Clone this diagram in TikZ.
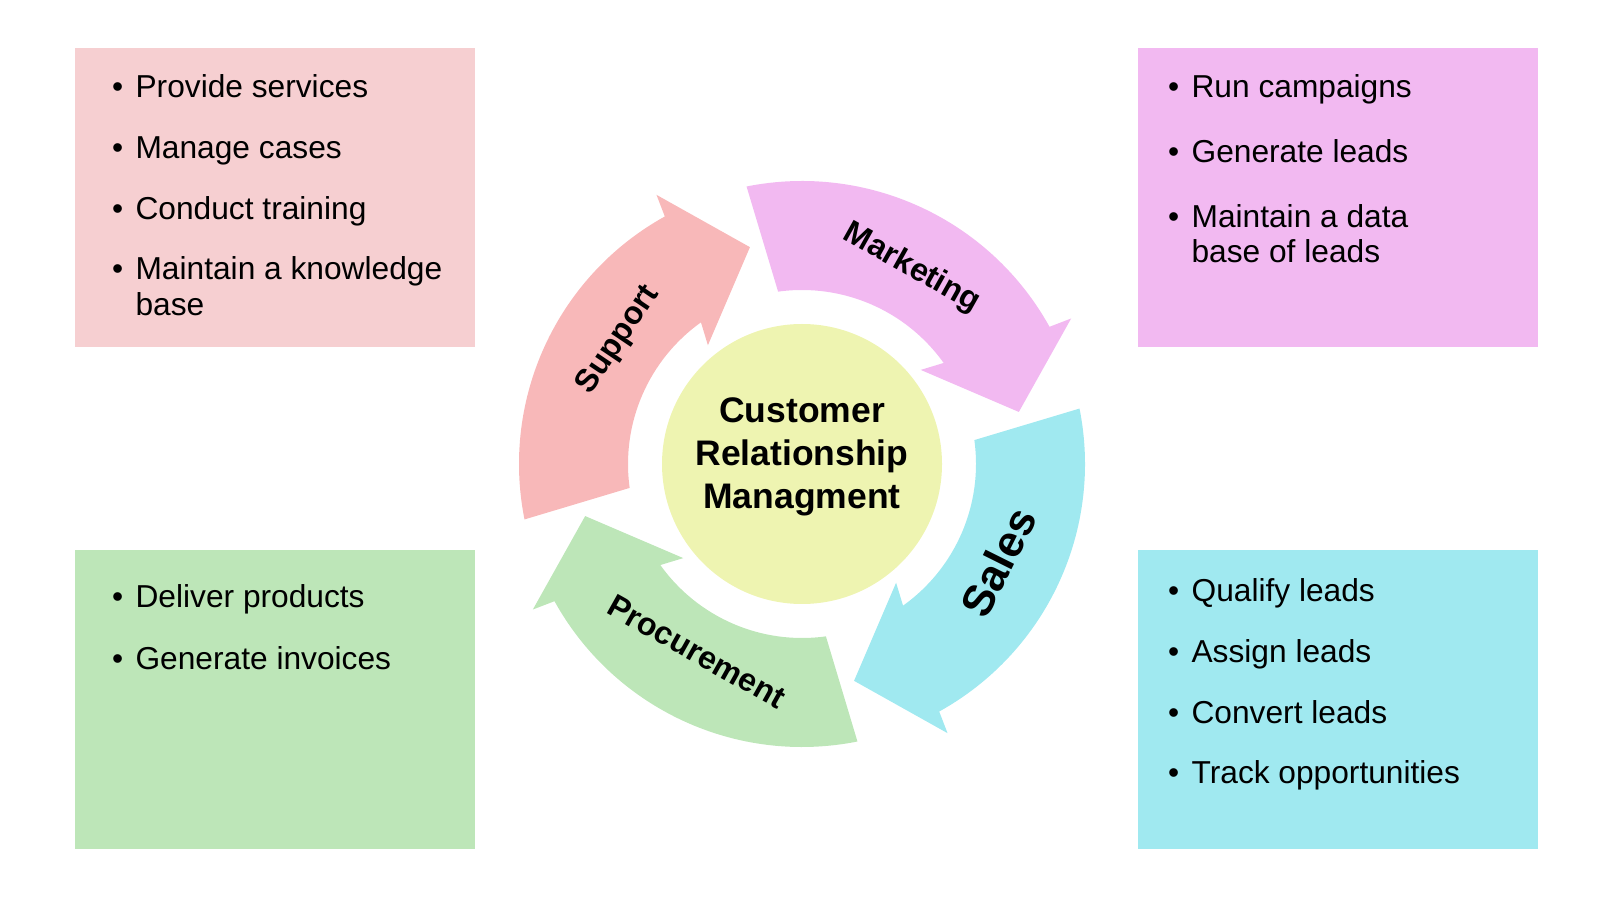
\documentclass[tikz,border=0pt]{standalone}
\usepackage{fontspec}
\setmainfont{Liberation Sans}
\usepackage{tikz}

\definecolor{supportBox}{HTML}{F6CFD1}
\definecolor{supportFill}{HTML}{F8B8B9}
\definecolor{marketingFill}{HTML}{F2B9F1}
\definecolor{salesFill}{HTML}{A0E9F0}
\definecolor{procFill}{HTML}{BDE6B8}
\definecolor{hubFill}{HTML}{EEF4B1}

% one arrow of the cycle, #1 = clockwise turn in degrees, #2 = colour
\newcommand{\cyclearrow}[2]{%
  \fill[#2] (191.3-#1:283pt) arc[start angle=191.3-#1, end angle=119-#1, radius=283pt]
    -- (118.4-#1:306pt) -- (103.5-#1:223pt) -- (128.4-#1:151.5pt) -- (125.5-#1:174pt)
    arc[start angle=125.5-#1, end angle=187.9-#1, radius=174pt] -- cycle;}

\begin{document}
\begin{tikzpicture}[
        x=1pt, y=1pt,
        infobox/.style={rectangle, minimum width=400pt, minimum height=299pt, inner sep=0pt},
        itemlist/.style={anchor=base west, inner sep=0pt, font=\fontsize{31.7}{36}\selectfont},
        stage/.style={inner sep=0pt, font=\bfseries\fontsize{32}{38}\selectfont},
        hub/.style={circle, fill=hubFill, minimum size=280pt, inner sep=0pt}
    ]
    \useasboundingbox (0,0) rectangle (1600,900);

    % the four boxes
    \node (supBox) [infobox, fill=supportBox] at (275,702.5) {};
    \node (mktBox) [infobox, fill=marketingFill] at (1338,702.5) {};
    \node (proBox) [infobox, fill=procFill] at (275,200.5) {};
    \node (salBox) [infobox, fill=salesFill] at (1338,200.5) {};

    \node (supList) [itemlist] at ([shift={(37,-50)}]supBox.north west)
        {\begin{tabular}[t]{@{}l@{\hspace{12.5pt}}l@{}}
        \textbullet & Provide services\\[25pt]
        \textbullet & Manage cases\\[25pt]
        \textbullet & Conduct training\\[24pt]
        \textbullet & Maintain a knowledge\\
                    & base
        \end{tabular}};
    \node (mktList) [itemlist] at ([shift={(30,-50)}]mktBox.north west)
        {\begin{tabular}[t]{@{}l@{\hspace{12.5pt}}l@{}}
        \textbullet & Run campaigns\\[29pt]
        \textbullet & Generate leads\\[29pt]
        \textbullet & Maintain a data\\[-1pt]
                    & base of leads
        \end{tabular}};
    \node (proList) [itemlist] at ([shift={(37,-58)}]proBox.north west)
        {\begin{tabular}[t]{@{}l@{\hspace{12.5pt}}l@{}}
        \textbullet & Deliver products\\[26pt]
        \textbullet & Generate invoices
        \end{tabular}};
    \node (salList) [itemlist] at ([shift={(30,-52)}]salBox.north west)
        {\begin{tabular}[t]{@{}l@{\hspace{12.5pt}}l@{}}
        \textbullet & Qualify leads\\[25pt]
        \textbullet & Assign leads\\[25pt]
        \textbullet & Convert leads\\[24pt]
        \textbullet & Track opportunities
        \end{tabular}};

    % the cycle round the hub
    \begin{scope}[shift={(802,436)}]
        \foreach \rot/\col in {0/supportFill, 90/marketingFill, 180/salesFill, 270/procFill}
            {\cyclearrow{\rot}{\col}}
        \node (supLabel) [stage, rotate=56] at (146:221.6pt) {Support};
        \node (mktLabel) [stage, rotate=-29.3] at (60.7:224.4pt) {Marketing};
        \node (salLabel) [stage, rotate=63.5, font=\bfseries\fontsize{44}{50}\selectfont] at (-26.5:219.3pt) {Sales};
        \node (proLabel) [stage, rotate=-29.3] at (240.7:215.2pt) {Procurement};
    \end{scope}

    \node (hub) [hub] at (802,436) {};
    \node (hubText) [align=center, font=\bfseries\fontsize{35.5}{43}\selectfont] at ([yshift=7pt]hub.center)
        {Customer\\Relationship\\Managment};

\end{tikzpicture}
\end{document}
